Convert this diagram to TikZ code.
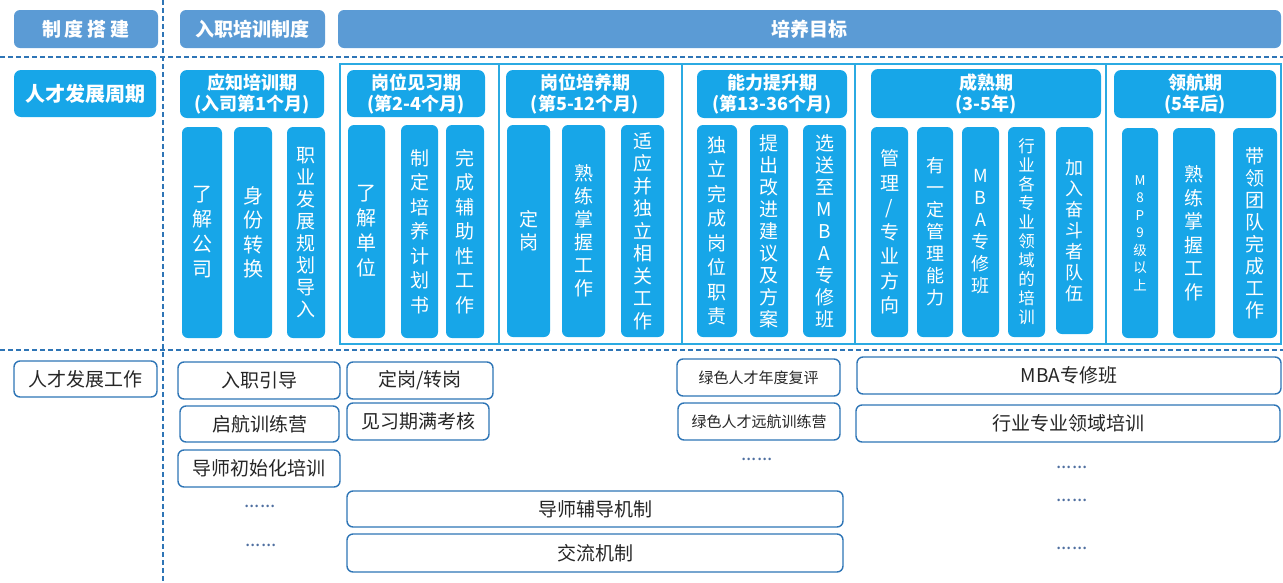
\documentclass[tikz,border=0pt]{standalone}
\usepackage{fontspec}
\setmainfont{Noto Sans CJK SC}
\definecolor{steel}{HTML}{5B9BD5}
\definecolor{sky}{HTML}{17A6E8}
\definecolor{dline}{HTML}{2E75B6}
\definecolor{frameline}{HTML}{2BAAE2}
\definecolor{dotcol}{HTML}{4F6FA0}
\definecolor{ink}{HTML}{262626}
\newcommand\bx[7]{\node[#1,minimum width={(#5-#3)*1pt},minimum height={(#6-#4)*1pt}] (#2) at ({(#3+#5)/2},{(#4+#6)/2}) {#7};}
\begin{document}
\begin{tikzpicture}[x=1pt,y=-1pt,
  topbox/.style={fill=steel, rounded corners=6pt, inner sep=0pt, text=white, font=\fontsize{19}{22}\selectfont\bfseries},
  skybox/.style={fill=sky, rounded corners=7pt, inner sep=0pt, text=white, align=center, font=\fontsize{18}{21}\selectfont\bfseries},
  colbox/.style={fill=sky, rounded corners=6pt, inner sep=0pt, text=white, align=center, font=\fontsize{19}{24.5}\selectfont},
  workbox/.style={draw=dline, line width=1.4pt, fill=white, rounded corners=6pt, inner sep=0pt, text=ink, font=\fontsize{19}{22}\selectfont},
  smallwork/.style={workbox, font=\fontsize{15}{18}\selectfont},
  dotsty/.style={inner sep=0pt, text=dotcol, font=\fontsize{19}{20}\selectfont},
  dashline/.style={draw=dline, line width=1.5pt, dash pattern=on 5pt off 3pt},
  frame/.style={draw=frameline, line width=1.3pt}
]
\useasboundingbox (0,0) rectangle (1283,582);

% dashed separators
\draw[dashline] (0,57) -- (1283,57);
\draw[dashline] (0,350) -- (1283,350);
\draw[dashline] (163,0) -- (163,582);

% top row
\bx{topbox}{sys}{14}{10}{158}{48}{制\hskip4pt 度\hskip4pt 搭\hskip4pt 建}
\bx{topbox}{rzpx}{180}{10}{325}{48}{入职培训制度}
\bx{topbox}{goal}{338}{10}{1281}{48}{培养目标}

% frame around phases 2-6
\draw[frame] (340,64) rectangle (1281,344);
\draw[frame] (499,64) -- (499,344);
\draw[frame] (682,64) -- (682,344);
\draw[frame] (855,64) -- (855,344);
\draw[frame] (1106,64) -- (1106,344);

% row 2 label
\bx{skybox,font=\fontsize{20}{22}\selectfont\bfseries}{period}{14}{70}{156}{117}{人才发展周期}

% phase 1
\bx{skybox}{h1}{180}{70}{324}{118}{应知培训期\\(入司第1个月)}
\bx{colbox,font=\fontsize{20}{25}\selectfont}{c1a}{182}{127}{222}{338}{了\\解\\公\\司}
\bx{colbox,font=\fontsize{20}{24.5}\selectfont}{c1b}{234}{127}{272}{338}{身\\份\\转\\换}
\bx{colbox,font=\fontsize{19}{22}\selectfont}{c1c}{287}{127}{325}{338}{职\\业\\发\\展\\规\\划\\导\\入}

% phase 2
\bx{skybox}{h2}{347}{70}{485}{117}{岗位见习期\\(第2-4个月)}
\bx{colbox,font=\fontsize{20}{25}\selectfont}{c2a}{348}{125}{385}{338}{了\\解\\单\\位}
\bx{colbox}{c2b}{401}{125}{438}{338}{制\\定\\培\\养\\计\\划\\书}
\bx{colbox}{c2c}{446}{125}{484}{338}{完\\成\\辅\\助\\性\\工\\作}

% phase 3
\bx{skybox}{h3}{506}{70}{664}{118}{岗位培养期\\(第5-12个月)}
\bx{colbox,font=\fontsize{19}{23}\selectfont}{c3a}{507}{125}{550}{337}{定\\岗}
\bx{colbox,font=\fontsize{19}{23}\selectfont}{c3b}{562}{125}{605}{337}{熟\\练\\掌\\握\\工\\作}
\bx{colbox,font=\fontsize{19}{22.5}\selectfont}{c3c}{621}{125}{664}{337}{适\\应\\并\\独\\立\\相\\关\\工\\作}

% phase 4
\bx{skybox}{h4}{697}{70}{847}{118}{能力提升期\\(第13-36个月)}
\bx{colbox}{c4a}{697}{125}{737}{337}{独\\立\\完\\成\\岗\\位\\职\\责}
\bx{colbox,font=\fontsize{19}{22}\selectfont}{c4b}{750}{125}{788}{337}{提\\出\\改\\进\\建\\议\\及\\方\\案}
\bx{colbox,font=\fontsize{19}{22}\selectfont}{c4c}{803}{125}{846}{337}{选\\送\\至\\M\\B\\A\\专\\修\\班}

% phase 5
\bx{skybox}{h5}{871}{69}{1101}{118}{成熟期\\(3-5年)}
\bx{colbox}{c5a}{871}{127}{908}{337}{管\\理\\/\\专\\业\\方\\向}
\bx{colbox,font=\fontsize{18}{22}\selectfont}{c5b}{917}{127}{953}{337}{有\\一\\定\\管\\理\\能\\力}
\bx{colbox,font=\fontsize{18}{22}\selectfont}{c5c}{962}{127}{999}{337}{M\\B\\A\\专\\修\\班}
\bx{colbox,font=\fontsize{16.5}{19}\selectfont}{c5d}{1008}{127}{1045}{337}{行\\业\\各\\专\\业\\领\\域\\的\\培\\训}
\bx{colbox,font=\fontsize{18}{21}\selectfont}{c5e}{1056}{127}{1093}{334}{加\\入\\奋\\斗\\者\\队\\伍}

% phase 6
\bx{skybox}{h6}{1114}{70}{1276}{118}{领航期\\(5年后)}
\bx{colbox,font=\fontsize{13.5}{17.5}\selectfont}{c6a}{1122}{128}{1158}{338}{M\\8\\P\\9\\级\\以\\上}
\bx{colbox,font=\fontsize{19}{23.5}\selectfont}{c6b}{1173}{128}{1215}{338}{熟\\练\\掌\\握\\工\\作}
\bx{colbox,font=\fontsize{19}{22}\selectfont}{c6c}{1233}{128}{1277}{338}{带\\领\\团\\队\\完\\成\\工\\作}

% row 3
\bx{workbox}{work}{14}{361}{157}{397}{人才发展工作}
\bx{workbox}{w1}{178}{362}{340}{399}{入职引导}
\bx{workbox}{w2}{180}{406}{339}{442}{启航训练营}
\bx{workbox}{w3}{178}{450}{340}{487}{导师初始化培训}
\node[dotsty] (d1) at (260,506) {......};
\node[dotsty] (d2) at (261,545) {......};
\bx{workbox}{w4}{347}{362}{493}{399}{定岗/转岗}
\bx{workbox}{w5}{347}{403}{489}{440}{见习期满考核}
\bx{workbox}{w6}{347}{491}{843}{527}{导师辅导机制}
\bx{workbox}{w7}{347}{534}{843}{572}{交流机制}
\bx{smallwork}{w8}{677}{359}{840}{396}{绿色人才年度复评}
\bx{smallwork}{w9}{678}{403}{840}{440}{绿色人才远航训练营}
\node[dotsty] (d3) at (757,459) {......};
\bx{workbox}{w10}{857}{357}{1281}{394}{MBA专修班}
\bx{workbox}{w11}{856}{405}{1280}{442}{行业专业领域培训}
\node[dotsty] (d4) at (1072,467) {......};
\node[dotsty] (d5) at (1072,500) {......};
\node[dotsty] (d6) at (1072,548) {......};
\end{tikzpicture}
\end{document}
